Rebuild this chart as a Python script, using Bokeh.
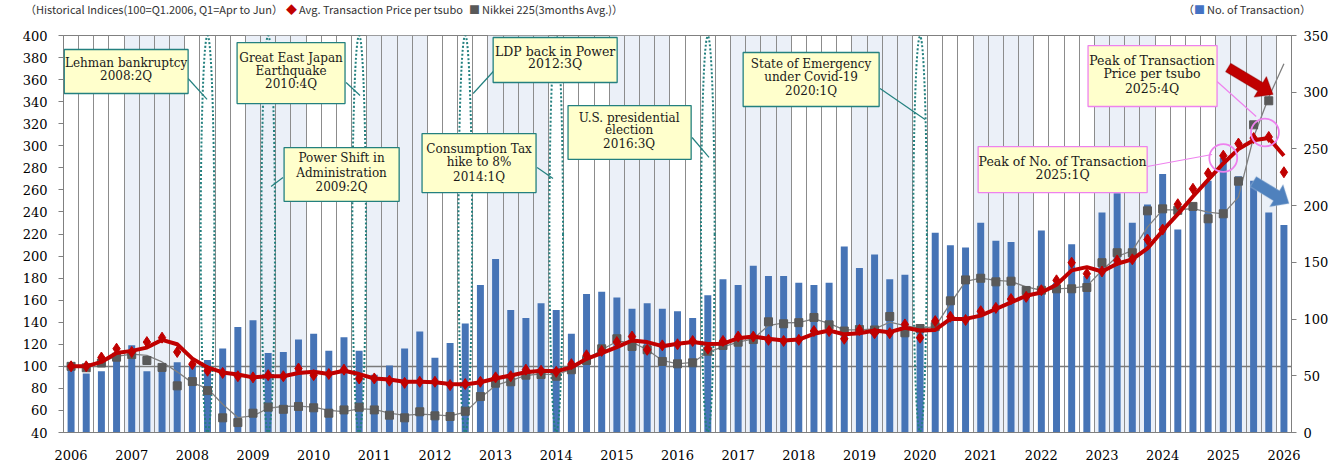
import numpy as np
from bokeh.plotting import figure
from bokeh.layouts import column
from bokeh.models import (ColumnDataSource, Range1d, LinearAxis, FixedTicker,
                          Label, BoxAnnotation, PolyAnnotation, Div)
from bokeh.embed import file_html
from bokeh.resources import INLINE

# quarterly, Q1.2006 .. Q1.2026 (Q1 = Apr to Jun)
years = list(range(2006, 2027))

# No. of Transaction (right axis)
n_txn = [59, 52, 54, 68, 77, 54, 58, 62, 60, 64,
         74, 93, 99, 70, 71, 82, 87, 72, 84, 72,
         51, 59, 74, 89, 66, 79, 96, 130, 153, 108,
         101, 114, 108, 87, 122, 124, 119, 109, 114, 109,
         107, 101, 121, 135, 130, 147, 138, 138, 132, 130,
         132, 164, 145, 157, 135, 139, 91, 176, 165, 163,
         185, 169, 168, 127, 178, 132, 166, 138, 194, 211,
         185, 201, 228, 179, 200, 222, 242, 226, 222, 194,
         183]

# Avg. Transaction Price per tsubo (index, 100=Q1.2006)
price_idx = [100, 100, 108, 116, 113, 122, 126, 113, 102, 96,
             94, 91, 90, 92, 91, 98, 92, 93, 97, 89,
             89, 87, 85, 86, 86, 83, 84, 86, 90, 91,
             97, 96, 95, 102, 110, 114, 122, 127, 115, 119,
             120, 123, 116, 123, 127, 127, 124, 123, 124, 132,
             132, 125, 133, 130, 130, 138, 126, 141, 145, 142,
             150, 153, 161, 163, 169, 178, 194, 184, 186, 196,
             197, 215, 224, 247, 261, 275, 291, 302, 307, 308,
             276]

# smoothed price line
price_line = [100, 100, 104, 112, 114, 117, 124, 120, 107, 99,
              94.5, 92.6, 90, 91, 91, 94, 95, 93, 96, 93,
              89, 88, 86, 86, 85.6, 84, 83.5, 85.6, 89, 91.7,
              94.7, 96, 95.5, 99, 106.8, 112, 117.4, 123.4, 122, 118.3,
              120.4, 122, 120.2, 120.4, 125.5, 127, 125, 123.4, 124.3, 129.5,
              132.5, 129, 130, 132.5, 131, 135, 132.5, 133, 143, 143,
              146, 152, 158, 164, 167, 174, 187, 190, 186, 193,
              197, 207, 223, 238, 254, 269, 284, 297, 305, 307,
              291]

# Nikkei 225 (3 months avg., index)
nikkei_idx = [100, 98.7, 103, 108.3, 110.7, 105.3, 99, 82.3, 86.2, 78,
              53.3, 49, 57.5, 63, 61, 63.6, 62.4, 57.5, 60.5, 62.9,
              60.5, 55.7, 53.3, 58.8, 55.1, 54.5, 59.3, 72.6, 84.7, 86,
              92, 92.6, 91, 96.9, 105.3, 115.9, 125, 118, 115, 104.4,
              102.3, 103.2, 113.7, 118.9, 121.9, 124.3, 140.4, 138.6, 139.6, 144.3,
              137.6, 132, 133.4, 133, 145.2, 130.4, 134.3, 136, 159.4, 178.4,
              179.9, 176.6, 177.2, 168.8, 169, 170.3, 170.3, 171.5, 194, 203,
              203, 241, 242.8, 241.5, 245, 233.8, 238.3, 267.9, 319, 340.8,
              float("nan")]

nikkei_line = [100, 100, 104, 109, 111, 110, 104, 95, 85, 80,
               65.6, 53.5, 55, 62, 63.6, 64, 63, 60, 59, 61.5,
               61, 57.5, 55.5, 56.6, 56, 55.1, 58.5, 71.5, 82.7, 87.1,
               91.7, 93.2, 92.3, 97.5, 106, 115, 122.5, 122, 115, 105.3,
               102.3, 103.5, 112.8, 117.7, 121.9, 124.9, 137, 139.5, 139.7, 143,
               139, 133, 133, 134, 140, 137, 134.5, 136, 157, 177,
               180, 178, 177, 172, 169, 170.3, 170.9, 172.7, 186.9, 199.6,
               205, 226.2, 241.9, 242, 243, 239.8, 238.3, 253.4, 307.8, 344,
               374.3]

# events marked with a dotted ellipse
events = [("Lehman bankruptcy", "2008:2Q"),
          ("Power Shift in|Administration", "2009:2Q"),
          ("Great East Japan|Earthquake", "2010:4Q"),
          ("LDP back in Power", "2012:3Q"),
          ("Consumption Tax|hike to 8%", "2014:1Q"),
          ("U.S. presidential|election", "2016:3Q"),
          ("State of Emergency|under Covid-19", "2020:1Q")]
peaks = [("Peak of No. of Transaction", "2025:1Q"),
         ("Peak of Transaction|Price per tsubo", "2025:4Q")]


def qidx(s):
    y, qq = s.split(":")
    return (int(y) - years[0]) * 4 + int(qq[0]) - 1


# callout layout: box l, r, t, b / text x / line ys / pointer
callouts = [
    (-0.45, 7.72, 387.3, 347.4, 3.63, [375.5, 363.7], (7.72, 361.0, 8.97, 342.0), "12px"),
    (14.05, 21.64, 298.4, 249.5, 17.84, [288.5, 274.9, 262.2], (13.98, 271.2, 13.19, 263.1), "12px"),
    (10.95, 18.07, 393.6, 338.3, 14.51, [380.0, 368.2, 355.6], (18.14, 357.4, 19.06, 345.6), "12px"),
    (27.84, 36.02, 398.2, 357.4, 31.93, [385.5, 374.6], (28.03, 370.1, 26.52, 347.4), "12.5px"),
    (23.15, 30.67, 311.1, 257.6, 26.91, [297.5, 285.7, 272.1], (30.74, 280.3, 31.79, 270.3), "12px"),
    (32.78, 40.90, 336.5, 287.6, 36.81, [325.6, 314.7, 301.2], (40.96, 307.5, 42.08, 289.4), "12px"),
    (44.33, 53.30, 384.6, 335.6, 48.81, [374.6, 362.8, 350.1], (53.36, 351.9, 56.33, 323.8), "12px"),
]
peak_callouts = [
    (59.83, 70.98, 299.3, 257.6, 65.4, [285.7, 273.9], (70.98, 281.2, 75.26, 292.1), "12.5px"),
    (67.08, 75.59, 390.9, 335.6, 71.3, [377.3, 365.5, 351.9], (75.59, 358.3, 78.17, 326.5), "12.5px"),
]

TEAL = "#23807f"
PINK = "#ee82ee"
GRID = "#8c8c8c"
SERIF = "DejaVu Serif"

q = list(range(len(n_txn)))
src = ColumnDataSource(dict(q=q, n_txn=n_txn, price=price_idx, price_ma=price_line,
                            nk=nikkei_idx, nk_ma=nikkei_line))

p = figure(width=1336, height=448, x_range=Range1d(-0.5, len(q) - 0.5),
           y_range=Range1d(40, 400), output_backend="svg", toolbar_location=None,
           min_border_left=63, min_border_right=45, min_border_top=15, min_border_bottom=36)
p.extra_y_ranges = {"cnt": Range1d(0, 350)}
p.outline_line_color = "#808080"

# alternate year shading
odd = [(y - years[0]) * 4 - 0.5 for y in years[:-1] if y % 2 == 1]
p.quad(left=odd, right=[v + 4 for v in odd], bottom=40, top=400,
       fill_color="#ebf0f8", line_color=None, level="image")

p.xgrid.ticker = FixedTicker(ticks=[i - 0.5 for i in q] + [len(q) - 0.5])
p.xgrid.grid_line_color = GRID
p.ygrid.ticker = FixedTicker(ticks=[100])
p.ygrid.grid_line_color = "#7a7a7a"
p.ygrid.grid_line_width = 1.3

p.xaxis.ticker = FixedTicker(ticks=[(y - years[0]) * 4 for y in years])
p.xaxis.major_label_overrides = {(y - years[0]) * 4: str(y) for y in years}
p.xaxis.major_tick_line_color = None
p.xaxis.minor_tick_line_color = None
p.xaxis.axis_line_color = "#808080"
p.xaxis.major_label_standoff = 11
p.xaxis.major_label_text_font = SERIF
p.xaxis.major_label_text_font_size = "13px"
p.xaxis.major_label_text_color = "black"

p.yaxis.ticker = FixedTicker(ticks=list(range(40, 401, 20)))
p.yaxis.major_tick_out = 5
p.yaxis.major_tick_in = 0
p.yaxis.minor_tick_line_color = None
p.yaxis.axis_line_color = "#808080"
p.yaxis.major_tick_line_color = "#808080"
p.yaxis.major_label_standoff = 11
p.yaxis.major_label_text_font = SERIF
p.yaxis.major_label_text_font_size = "13px"
p.yaxis.major_label_text_color = "black"

ax2 = LinearAxis(y_range_name="cnt", ticker=FixedTicker(ticks=list(range(0, 351, 50))),
                 major_tick_out=5, major_tick_in=0, minor_tick_line_color=None,
                 axis_line_color="#808080", major_tick_line_color="#808080",
                 major_label_standoff=7, major_label_text_font=SERIF,
                 major_label_text_font_size="13px", major_label_text_color="black")
p.add_layout(ax2, "right")

p.vbar(x="q", top="n_txn", width=0.46, y_range_name="cnt", source=src,
       fill_color="#4674b6", line_color=None)

# dotted event ellipses
p.ellipse(x=[qidx(e[1]) for e in events], y=220, width=0.9, height=360,
          fill_color=None, line_color=TEAL, line_width=2, line_dash="2 2")

p.line("q", "nk_ma", source=src, line_color="#7f7f7f", line_width=1.3)
p.scatter("q", "nk", source=src, marker="square", size=8, color="#595959")
p.line("q", "price_ma", source=src, line_color="#c00000", line_width=4)
p.scatter("q", "price", source=src, marker="diamond", size=11, color="#c00000")

# callouts
for (ev, cl, col) in ([(e, c, TEAL) for e, c in zip(events, callouts)] +
                      [(e, c, PINK) for e, c in zip(peaks, peak_callouts)]):
    l, r, t, b, tx, ys, (x0, y0, x1, y1), fs = cl
    p.segment(x0=[x0], y0=[y0], x1=[x1], y1=[y1], line_color=col, line_width=1.2)
    p.add_layout(BoxAnnotation(left=l, right=r, top=t, bottom=b, fill_color="#ffffcc",
                               fill_alpha=1, line_color=col, line_width=1.3, line_alpha=1))
    lines = ev[0].split("|") + [ev[1]]
    for txt, yy in zip(lines, ys):
        p.add_layout(Label(x=tx, y=yy, text=txt, text_align="center", text_baseline="middle",
                           text_font=SERIF, text_font_size=fs, text_color="#1a1a1a"))

# peak circles
imax = int(np.argmax(n_txn))
p.circle(x=[imax], y=[n_txn[imax]], radius=0.92, y_range_name="cnt",
         fill_color=None, line_color=PINK, line_width=1.8)
p.circle(x=[qidx(peaks[1][1]) - 0.25], y=[312], radius=0.92,
         fill_color=None, line_color=PINK, line_width=1.8)


def px_to_data(px, py):
    return (px - 71) / 15.16, 40 + (432 - py) / 1.1028


def block_arrow(tail, tip, body, head, head_len):
    t = np.array(tail, float)
    h = np.array(tip, float)
    u = (h - t) / np.hypot(*(h - t))
    n = np.array([-u[1], u[0]])
    b = h - u * head_len
    pts = [t + n * body, b + n * body, b + n * head, h, b - n * head, b - n * body, t - n * body]
    xs, ys = zip(*[px_to_data(*pt) for pt in pts])
    return list(xs), list(ys)


xs, ys = block_arrow((1228, 67), (1273, 94), 5, 12, 15)
p.add_layout(PolyAnnotation(xs=xs, ys=ys, fill_color="#c00000", fill_alpha=1,
                            line_color="#7a0000", line_width=1.2))
xs, ys = block_arrow((1253, 181), (1289, 203), 6, 13, 15)
p.add_layout(PolyAnnotation(xs=xs, ys=ys, fill_color="#4f81bd", fill_alpha=1,
                            line_color="#b8cce4", line_width=1.5))

# header (legend texts)
head_items = [(25, "（Historical Indices(100=Q1.2006, Q1=Apr to Jun）", ""),
              (286, "Avg. Transaction Price per tsubo", "◆#c00000"),
              (469, "Nikkei 225(3months Avg.)）", "■#595959"),
              (1183, "No. of Transaction）", "（|■#4472c4")]
spans = []
for left, txt, mark in head_items:
    pre = ""
    if mark:
        lead = ""
        if "|" in mark:
            lead, mark = mark.split("|")
        pre = lead + '<span style="color:%s;margin-right:2px">%s</span>' % (mark[1:], mark[0])
    spans.append('<span style="position:absolute;left:%dpx;top:2px">%s%s</span>' % (left, pre, txt))
head = Div(text='<div style="position:relative;width:1336px;height:20px;'
                "font-family:'Noto Sans CJK JP',sans-serif;font-size:11px;color:#333;"
                'white-space:nowrap">' + "".join(spans) + "</div>",
           width=1336, height=20, margin=(0, 0, 0, 0))

open("out.html", "w").write(file_html(column(head, p, spacing=0), INLINE))
